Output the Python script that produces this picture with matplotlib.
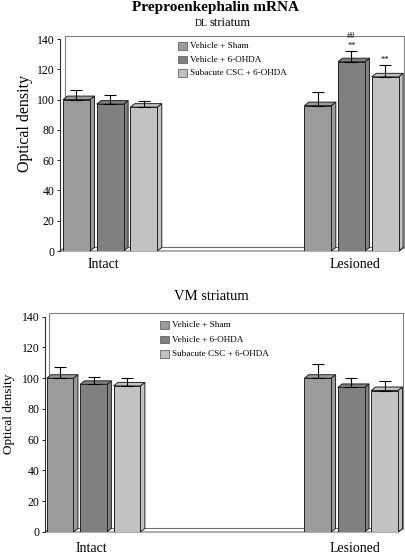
import matplotlib
matplotlib.use("Agg")
import matplotlib.pyplot as plt
from matplotlib.patches import Polygon, Rectangle
import numpy as np

series = ["Vehicle + Sham", "Vehicle + 6-OHDA", "Subacute CSC + 6-OHDA"]
groups = ["Intact", "Lesioned"]
colors = ["#9b9b9b", "#808080", "#c2c2c2"]

dl_values = [[100, 97, 95], [96, 125, 115]]
dl_errors = [[6, 6, 4], [9, 7, 8]]
dl_marks = [["", "", ""], ["", "##\n**", "**"]]

vm_values = [[100, 96, 95], [100, 94, 92]]
vm_errors = [[7, 5, 5], [9, 6, 6]]

yticks = [0, 20, 40, 60, 80, 100, 120, 140]

plt.rcParams['font.family'] = ['Liberation Serif', 'DejaVu Serif']

W, H = 406, 554
fig = plt.figure(figsize=(W / 100, H / 100), dpi=100)


def draw_panel(rect, values, errors, marks, gap, xlim, label_x, label_dy,
               legend_xy, legend_step, ylabel_size, ylabel_pos):
    ax = fig.add_axes(rect)
    ax.set_xlim(*xlim)
    ax.set_ylim(0, 140)
    bbox = ax.get_window_extent()
    ppx = bbox.width / (xlim[1] - xlim[0])
    ppy = bbox.height / 140.0
    dx = 4.5 / ppx
    dy = 3.5 / ppy
    # back wall outline
    ax.plot([xlim[0] + dx, xlim[0] + dx, xlim[1], xlim[1]], [dy, 140 + dy, 140 + dy, dy],
            clip_on=False, color="#808080", lw=0.8)
    # floor
    floor = Polygon([[xlim[0], 0], [xlim[1] - dx, 0], [xlim[1], dy], [xlim[0] + dx, dy]],
                    closed=True, facecolor="white", edgecolor="#707070", lw=0.8,
                    clip_on=False, zorder=1)
    ax.add_patch(floor)
    width = 0.8
    for gi, g in enumerate(groups):
        for si in range(3):
            x = si + gi * gap
            v = values[gi][si]
            c = colors[si]
            x0, x1 = x - width / 2, x + width / 2
            side = Polygon([[x1, 0], [x1 + dx, dy], [x1 + dx, v + dy], [x1, v]],
                           closed=True, facecolor=c, edgecolor="#222222", lw=0.7, zorder=3,
                           clip_on=False)
            top = Polygon([[x0, v], [x0 + dx, v + dy], [x1 + dx, v + dy], [x1, v]],
                          closed=True, facecolor=c, edgecolor="#222222", lw=0.7, zorder=3,
                          clip_on=False)
            ax.add_patch(side)
            ax.add_patch(top)
            ax.bar(x, v, width=width, color=c, edgecolor="#222222", lw=0.7, zorder=4)
            e = errors[gi][si]
            ax.errorbar(x, v, yerr=[[0], [e]], fmt="none", ecolor="black",
                        elinewidth=0.8, capsize=4.5, capthick=0.8, zorder=5)
            if marks is not None and marks[gi][si]:
                ax.text(x, v + e + 0.8, marks[gi][si], ha="center", va="bottom",
                        fontsize=6, linespacing=1.3, zorder=6)
        ax.text(label_x[gi], -label_dy / ppy, g, ha="center", va="center", fontsize=10,
                clip_on=False)
    for sp in ["top", "right", "bottom"]:
        ax.spines[sp].set_visible(False)
    ax.spines["left"].set_color("#303030")
    ax.spines["left"].set_linewidth(0.8)
    ax.set_xticks([])
    ax.set_yticks(yticks)
    ax.tick_params(axis="y", labelsize=8.5, length=2.5, width=0.6, pad=1.5)
    ax.set_ylabel("Optical density", fontsize=ylabel_size)
    ax.yaxis.set_label_coords(*ylabel_pos)
    # legend
    lx, ly = legend_xy
    for si, s in enumerate(series):
        yy = ly - si * legend_step
        fig.patches.append(Rectangle((lx, yy - 0.0068), 0.021, 0.0135, transform=fig.transFigure,
                                     facecolor=colors[si], edgecolor="#666666", lw=0.6))
        fig.text(lx + 0.030, yy, s, fontsize=6.6, va="center", ha="left")
    return ax


# Top panel: DL striatum
gap_top = 7.17
draw_panel([60 / W, 1 - 251 / H, 344 / W, 212 / H], dl_values, dl_errors, dl_marks,
           gap_top, (-0.49, 9.73), [0.79, gap_top + 1.1], 14,
           (178 / W, 1 - 46 / H), 13.5 / H, 11.5, (-0.078, 0.6))
fig.text(216 / W, 1 - 7 / H, "Preproenkephalin mRNA", ha="center", va="center",
         fontsize=11, fontweight="bold")
fig.text(208 / W, 1 - 23.5 / H, "DL", ha="right", va="center", fontsize=7)
fig.text(209.5 / W, 1 - 23 / H, "striatum", ha="left", va="center", fontsize=9)

# Bottom panel: VM striatum
gap_bot = 7.7
draw_panel([45 / W, 1 - 532 / H, 358 / W, 215.3 / H], vm_values, vm_errors, None,
           gap_bot, (-0.45, 10.25), [0.95, gap_bot + 1.11], 16,
           (160 / W, 1 - 325 / H), 14.5 / H, 9.5, (-0.084, 0.55))
fig.text(211 / W, 1 - 297 / H, "VM striatum", ha="center", va="center", fontsize=10.5)

fig.savefig("out.png", dpi=100)
